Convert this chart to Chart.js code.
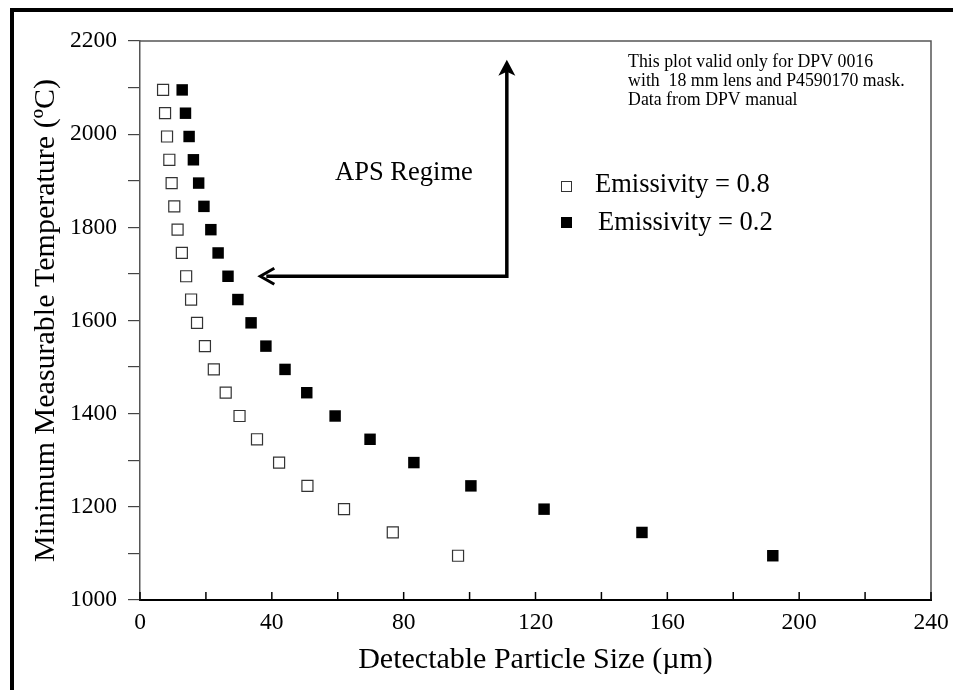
<!DOCTYPE html>
<html>
<head>
<meta charset="utf-8">
<script src="https://cdn.jsdelivr.net/npm/chart.js@4.4.0/dist/chart.umd.min.js"></script>
<style>
  body { margin: 0; background: #fff; }
  canvas { display: block; }
</style>
</head>
<body>
<canvas id="dpvChart" width="953" height="690"></canvas>
<script>
// minimum measurable temperature rows (ºC)
const temps = [2095, 2045, 1995, 1945, 1895, 1845, 1795, 1745, 1695, 1645, 1595,
	1545, 1495, 1445, 1395, 1345, 1295, 1245, 1195, 1145, 1095];
// detectable particle size (µm) for each row
const sizeE08 = [7.0, 7.6, 8.2, 8.9, 9.6, 10.4, 11.4, 12.7, 14.0, 15.5, 17.3,
	19.7, 22.4, 26.0, 30.2, 35.5, 42.2, 50.8, 61.9, 76.7, 96.5];
const sizeE02 = [12.8, 13.8, 14.9, 16.2, 17.8, 19.4, 21.5, 23.7, 26.7, 29.7, 33.7,
	38.2, 44.0, 50.6, 59.2, 69.8, 83.1, 100.4, 122.6, 152.3, 192.0];
const seriesNames = ["Emissivity = 0.8", "Emissivity = 0.2"];
const noteLines = ["This plot valid only for DPV 0016", "with  18 mm lens and P4590170 mask.", "Data from DPV manual"];

const serif = '"Liberation Serif", "Times New Roman", serif';

function toPoints(xs) {
	return xs.map((v, i) => ({ x: v, y: temps[i] }));
}

// extra drawing: plot box, inward x ticks, arrows, labels, legend, frame
const decor = {
	id: "decor",
	afterDraw(chart) {
		const { ctx, chartArea: a, scales: { x, y } } = chart;
		ctx.save();

		// top and right edges of the plot box
		ctx.strokeStyle = "#555";
		ctx.lineWidth = 1.5;
		ctx.beginPath();
		ctx.moveTo(a.left, a.top);
		ctx.lineTo(a.right, a.top);
		ctx.lineTo(a.right, a.bottom);
		ctx.stroke();

		// x ticks point into the plot
		ctx.strokeStyle = "#000";
		ctx.lineWidth = 1.5;
		x.ticks.forEach(t => {
			const px = x.getPixelForValue(t.value);
			ctx.beginPath();
			ctx.moveTo(px, a.bottom);
			ctx.lineTo(px, a.bottom - 8);
			ctx.stroke();
		});

		// APS regime arrows
		const ax = x.getPixelForValue(111.3);
		const ay = y.getPixelForValue(1695);
		const topY = y.getPixelForValue(2160);
		const leftX = x.getPixelForValue(36.5);
		ctx.lineWidth = 3.5;
		ctx.lineJoin = "miter";
		ctx.beginPath();
		ctx.moveTo(ax, topY + 10);
		ctx.lineTo(ax, ay);
		ctx.lineTo(leftX + 6, ay);
		ctx.stroke();
		ctx.fillStyle = "#000";
		ctx.beginPath();
		ctx.moveTo(ax, topY);
		ctx.lineTo(ax + 8.5, topY + 16);
		ctx.lineTo(ax, topY + 12);
		ctx.lineTo(ax - 8.5, topY + 16);
		ctx.closePath();
		ctx.fill();
		ctx.lineWidth = 3;
		ctx.beginPath();
		ctx.moveTo(leftX + 14, ay - 8);
		ctx.lineTo(leftX, ay);
		ctx.lineTo(leftX + 14, ay + 8);
		ctx.stroke();

		ctx.fillStyle = "#000";
		ctx.textBaseline = "middle";
		ctx.textAlign = "left";
		ctx.font = "26.5px " + serif;
		ctx.fillText("APS Regime", x.getPixelForValue(59.2), y.getPixelForValue(1917));

		// note
		ctx.font = "17.8px " + serif;
		noteLines.forEach((s, i) => {
			ctx.fillText(s, x.getPixelForValue(148.1), 62 + i * 19);
		});

		// legend
		ctx.font = "26.5px " + serif;
		ctx.lineWidth = 1;
		ctx.strokeStyle = "#333";
		ctx.fillStyle = "#fff";
		ctx.fillRect(561, 181, 10, 10);
		ctx.strokeRect(561.5, 181.5, 10, 10);
		ctx.fillStyle = "#000";
		ctx.fillText(seriesNames[0], 595, 185);
		ctx.fillRect(561, 217, 11, 11);
		ctx.fillText(seriesNames[1], 598, 223);

		// outer frame (left and top edges)
		ctx.lineWidth = 4;
		ctx.strokeStyle = "#000";
		ctx.beginPath();
		ctx.moveTo(12, 690);
		ctx.lineTo(12, 10);
		ctx.lineTo(953, 10);
		ctx.stroke();

		ctx.restore();
	}
};

const chart = new Chart(document.getElementById("dpvChart"), {
	type: "scatter",
	data: {
		datasets: [
			{
				label: seriesNames[0],
				data: toPoints(sizeE08),
				pointStyle: "rect",
				pointRadius: 7.8,
				pointBackgroundColor: "#fff",
				pointBorderColor: "#333",
				pointBorderWidth: 1.2
			},
			{
				label: seriesNames[1],
				data: toPoints(sizeE02),
				pointStyle: "rect",
				pointRadius: 8.1,
				pointBackgroundColor: "#000",
				pointBorderColor: "#000",
				pointBorderWidth: 0
			}
		]
	},
	options: {
		responsive: false,
		animation: false,
		devicePixelRatio: 1,
		layout: { padding: { top: 41, right: 22, left: 0, bottom: 0 } },
		plugins: { legend: { display: false }, tooltip: { enabled: false } },
		scales: {
			x: {
				type: "linear",
				min: 0,
				max: 240,
				afterFit(scale) {
					scale.height = 90;
					scale.paddingLeft = 0;
					scale.paddingRight = 0;
				},
				grid: { drawOnChartArea: false, drawTicks: false },
				border: { color: "#000", width: 2 },
				ticks: {
					stepSize: 20,
					autoSkip: false,
					maxRotation: 0,
					padding: 9,
					color: "#000",
					font: { family: serif, size: 23.5 },
					callback: v => (v % 40 === 0 ? v : "")
				},
				title: {
					display: true,
					text: "Detectable Particle Size (µm)",
					color: "#000",
					font: { family: serif, size: 30 },
					padding: { top: 0, bottom: 12 }
				}
			},
			y: {
				min: 1000,
				max: 2200,
				afterFit(scale) { scale.width = 140; },
				grid: { drawOnChartArea: false, drawTicks: true, tickLength: 12, color: "#444", lineWidth: 1.2 },
				border: { color: "#555", width: 1.5 },
				ticks: {
					stepSize: 100,
					autoSkip: false,
					padding: 11,
					color: "#000",
					font: { family: serif, size: 23.5 },
					callback: v => (v % 200 === 0 ? v : "")
				},
				title: {
					display: true,
					text: "Minimum Measurable Temperature (ºC)",
					color: "#000",
					font: { family: serif, size: 30 },
					padding: { top: 28, bottom: 0 }
				}
			}
		}
	},
	plugins: [decor]
});
</script>
</body>
</html>
